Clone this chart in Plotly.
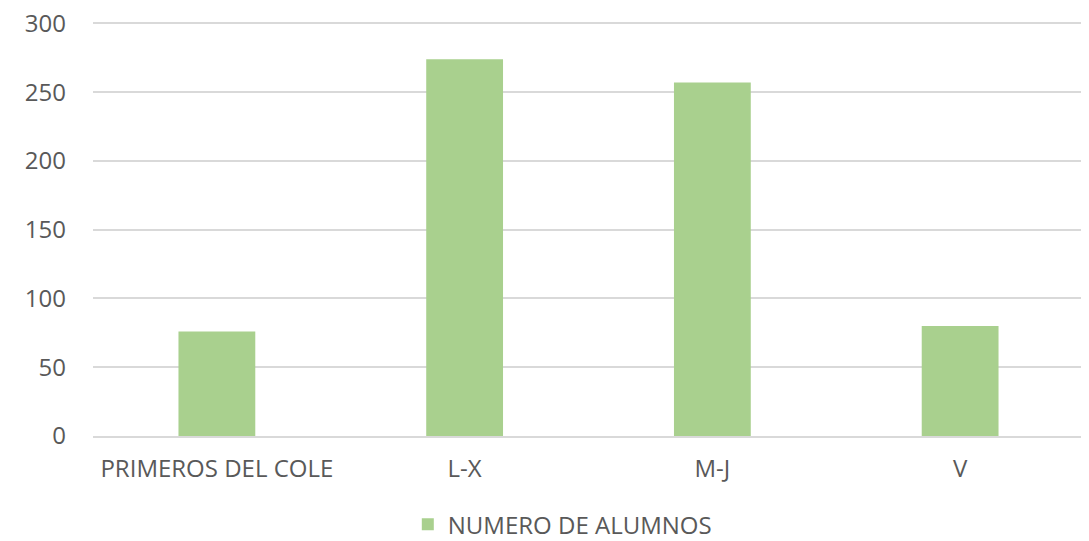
import plotly.graph_objects as go

categories = ["PRIMEROS DEL COLE", "L-X", "M-J", "V"]
values = [76, 274, 257, 80]
series_name = "NUMERO DE ALUMNOS"
y_ticks = [0, 50, 100, 150, 200, 250, 300]

fig = go.Figure()
fig.add_trace(go.Bar(
    x=categories, y=values, name=series_name,
    marker=dict(color="#A9D08E", line=dict(width=0)),
    showlegend=True,
))

font_family = "Open Sans, Noto Sans, sans-serif"
# page body has an 8px offset, compensated in margins
fig.update_layout(
    width=1089, height=541,
    margin=dict(l=85, r=13, t=14, b=113, autoexpand=False),
    paper_bgcolor="white", plot_bgcolor="white",
    bargap=0.69,
    font=dict(family=font_family, size=24, color="#595959"),
    showlegend=True,
    legend=dict(orientation="h", x=0.509, xanchor="center", xref="container",
                y=0.045, yanchor="middle", yref="container",
                font=dict(size=24, color="#595959")),
    xaxis=dict(showline=True, linecolor="#D9D9D9", linewidth=2, ticks="",
               automargin=False,
               tickfont=dict(size=24, color="#595959"), ticklabelstandoff=10),
    yaxis=dict(range=[0, 301], tickvals=y_ticks, showgrid=True, gridcolor="#D9D9D9",
               gridwidth=1.5, zeroline=False, showline=False, ticks="",
               automargin=False, ticklabeloverflow="allow",
               tickfont=dict(size=24, color="#595959"), ticklabelstandoff=26),
)

fig.write_html("out.html")
